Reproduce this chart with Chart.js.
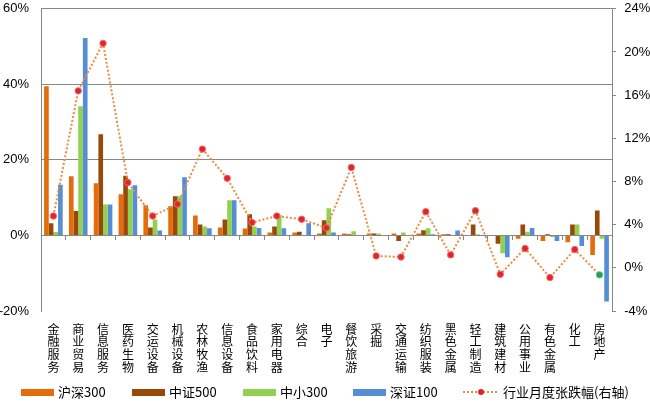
<!DOCTYPE html>
<html>
<head>
<meta charset="utf-8">
<script src="https://cdn.jsdelivr.net/npm/chart.js@4.4.0/dist/chart.umd.min.js"></script>
<style>
  html, body { margin: 0; padding: 0; background: #fff; }
  #wrap { position: relative; width: 650px; height: 403px; }
  #legend { position: absolute; left: 0; top: 383px; width: 650px; height: 18px;
    font-family: "Noto Sans CJK SC", "Liberation Sans", sans-serif; font-size: 13px; color: #000; }
  .item { position: absolute; top: 0; height: 18px; line-height: 18px; white-space: nowrap; }
  .box { display: inline-block; width: 33px; height: 7px; vertical-align: middle; margin-right: 4px; position: relative; top: -1px; }
  .lineicon { display: inline-block; width: 34px; height: 8px; vertical-align: middle; margin-right: 6px; position: relative; top: -1px; }
  .lineicon .dash { position: absolute; left: 0; right: 0; top: 3px; border-top: 2px dotted #EB8B3F; }
  .lineicon .dot { position: absolute; left: 15px; top: 1px; width: 6px; height: 6px; border-radius: 50%; background: #E1232A; }
</style>
</head>
<body>
<div id="wrap">
  <canvas id="c" width="650" height="403"></canvas>
  <div id="legend"></div>
</div>
<script>
const categories = ['金融服务','商业贸易','信息服务','医药生物','交运设备','机械设备','农林牧渔','信息设备','食品饮料','家用电器','综合','电子','餐饮旅游','采掘','交通运输','纺织服装','黑色金属','轻工制造','建筑建材','公用事业','有色金属','化工','房地产'];
const hs300 = [39.5, 15.7, 13.8, 10.9, 8.0, 7.7, 5.3, 2.1, 1.85, 0.8, 0.8, 0.5, 0.5, 0.5, 0.5, 0.5, 0.3, 0, 0, -0.9, -1.5, -1.8, -5.2];
const zz500 = [3.2, 6.5, 26.8, 15.8, 2.1, 10.4, 2.9, 4.2, 5.6, 2.4, 1.0, 4.0, 0.3, 0.5, -1.5, 1.4, 0.3, 2.9, -2.2, 2.9, 0.3, 2.9, 6.6];
const zx300 = [0.9, 34.2, 8.2, 12.2, 4.2, 10.4, 2.4, 9.3, 2.4, 5.4, 0, 7.2, 1.1, 0.5, 0.8, 1.9, 0, 0.3, -4.7, 1.0, -0.4, 2.9, -0.9];
const sz100 = [13.4, 52.3, 8.2, 13.3, 1.3, 15.4, 1.9, 9.3, 2.0, 1.9, 3.2, 0.8, 0, 0, 0, 0.3, 1.3, 0, -5.8, 2.0, -1.5, -2.8, -17.5];
const industry = [4.8, 16.4, 20.8, 7.9, 4.8, 5.9, 11.0, 8.3, 4.2, 4.8, 4.5, 3.7, 9.3, 1.1, 1.0, 5.2, 1.2, 5.3, -0.6, 1.8, -0.9, 1.7, -0.65];
const leftTicks = [-20, 0, 20, 40, 60];
const rightTicks = [-4, 0, 4, 8, 12, 16, 20, 24];
const seriesNames = ['沪深300', '中证500', '中小300', '深证100', '行业月度张跌幅(右轴)'];

const COLORS = ['#E46C0A', '#984807', '#92D050', '#558ED5'];
const GRID = '#878787';
const tickFont = { family: '"Liberation Sans", Arial, sans-serif', size: 13 };

const barSets = [hs300, zz500, zx300, sz100].map((d, i) => ({
  type: 'bar', label: seriesNames[i], data: d, backgroundColor: COLORS[i],
  yAxisID: 'y', xAxisID: 'x', categoryPercentage: 0.75, barPercentage: 1.0, order: 2
}));

const lineSet = {
  type: 'line', label: seriesNames[4], data: industry, yAxisID: 'y1', xAxisID: 'x',
  borderColor: '#EB8B3F', borderWidth: 2, borderDash: [2, 2], fill: false, tension: 0,
  pointRadius: 3.2, pointBorderWidth: 1,
  pointBackgroundColor: (ctx) => ctx.dataIndex === industry.length - 1 ? '#22A05A' : '#E1232A',
  pointBorderColor: (ctx) => ctx.dataIndex === industry.length - 1 ? '#5DBE86' : '#F06A6A',
  order: 0
};

new Chart(document.getElementById('c'), {
  data: { labels: categories.map(s => s.split('')), datasets: [...barSets, lineSet] },
  options: {
    responsive: false, animation: false,
    layout: { padding: { top: 0, bottom: 0, left: 0, right: 0 } },
    plugins: { legend: { display: false }, tooltip: { enabled: false } },
    scales: {
      x: {
        position: 'bottom', offset: true,
        grid: { display: false }, border: { display: false },
        ticks: { autoSkip: false, maxRotation: 0, minRotation: 0, padding: 4, color: '#000',
          font: { family: '"Noto Sans CJK SC", sans-serif', size: 12, lineHeight: 1.05 } },
        afterFit: (s) => { s.height = 92; }
      },
      x0: {
        type: 'category', axis: 'x', position: { y: 0 }, offset: true,
        grid: { drawOnChartArea: false, drawTicks: true, tickLength: 5, color: GRID, offset: true },
        border: { display: false },
        ticks: { display: false },
        afterFit: (s) => { s.height = 0; }
      },
      y: {
        position: 'left', min: -20, max: 60,
        afterBuildTicks: (s) => { s.ticks = leftTicks.map(v => ({ value: v })); },
        grid: { drawTicks: true, tickLength: 11, tickColor: 'rgba(0,0,0,0)',
          color: (ctx) => ctx.tick && ctx.tick.value === -20 ? 'rgba(0,0,0,0)' : GRID, lineWidth: 1 },
        border: { display: true, color: GRID },
        ticks: { padding: 1, color: '#000', font: tickFont, callback: (v) => v + '%' },
        afterFit: (s) => { s.width = 41; }
      },
      y1: {
        position: 'right', min: -4, max: 24,
        afterBuildTicks: (s) => { s.ticks = rightTicks.map(v => ({ value: v })); },
        grid: { drawOnChartArea: false, drawTicks: true, tickLength: 4, color: GRID },
        border: { display: true, color: GRID },
        ticks: { padding: 1, color: '#000', font: tickFont, callback: (v) => '  ' + v + '%' },
        afterFit: (s) => { s.width = 38; }
      }
    }
  }
});

// HTML legend
const legendPos = [21, 132, 243, 353, 463];
const leg = document.getElementById('legend');
seriesNames.forEach((name, i) => {
  const it = document.createElement('span');
  it.className = 'item';
  it.style.left = legendPos[i] + 'px';
  if (i < 4) {
    const b = document.createElement('span');
    b.className = 'box';
    b.style.background = COLORS[i];
    it.appendChild(b);
  } else {
    const li = document.createElement('span');
    li.className = 'lineicon';
    li.innerHTML = '<span class="dash"></span><span class="dot"></span>';
    it.appendChild(li);
  }
  it.appendChild(document.createTextNode(name));
  leg.appendChild(it);
});
</script>
</body>
</html>
